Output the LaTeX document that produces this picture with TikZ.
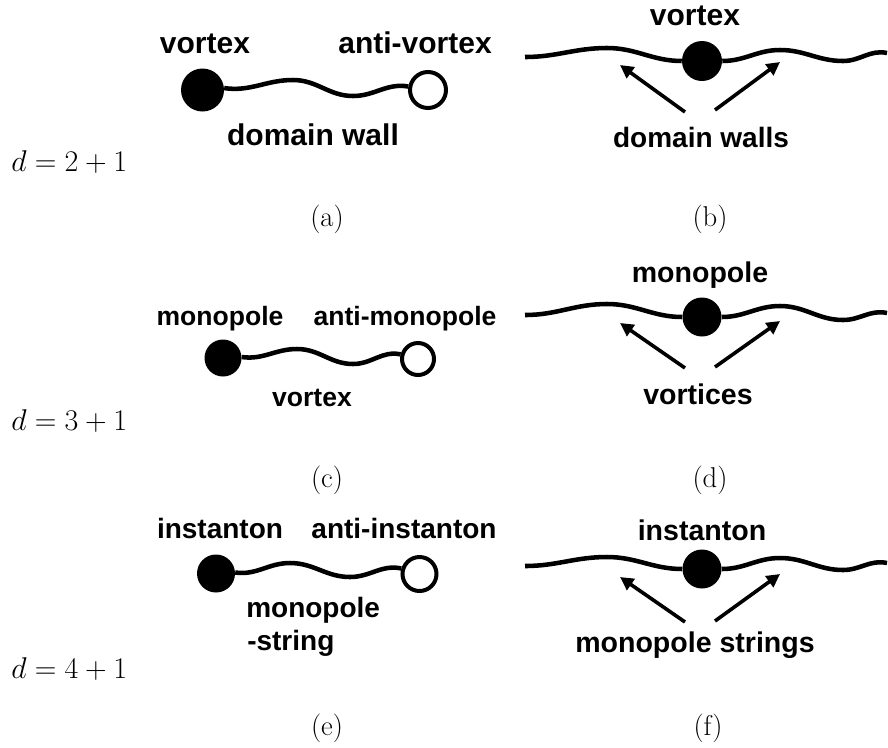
\RequirePackage{fix-cm}
\documentclass[tikz,border=0pt]{standalone}
\usepackage{fontspec}
\setsansfont{Liberation Sans}
\usetikzlibrary{arrows.meta}
\tikzset{
  lbl/.style={font=\sffamily\bfseries\fontsize{#1}{#1}\selectfont, inner sep=0pt, anchor=base},
  num/.style={font=\fontsize{21.5}{26}\selectfont, inner sep=0pt, anchor=base},
  dim/.style={font=\fontsize{22.5}{27}\selectfont, inner sep=0pt, anchor=base west},
  fdot/.style={circle, fill=black, inner sep=0pt, minimum size=#1},
  odot/.style={circle, draw=black, line width=3pt, fill=white, inner sep=0pt, minimum size=#1},
  wave/.style={line width=3.4pt},
  ptr/.style={line width=2.7pt, -{Triangle[length=10pt,width=10pt]}},
}
\begin{document}
\begin{tikzpicture}[x=0.75pt,y=-0.75pt]
\path[use as bounding box] (0,0) rectangle (888,747);

% ---------- (a) ----------
\node[fdot=32.25pt] (a1) at (202.5,90) {};
\node[odot=27pt] (a2) at (428,90) {};
\coordinate (ap) at (293,80);
\coordinate (at) at (353,96);
\draw[wave] (a1.5) to[out=-8,in=180] (ap) to[out=0,in=180] (at) to[out=0,in=170] (a2.170);
\node[lbl=22.5] (alv) at (205,53) {vortex};
\node[lbl=22.5] (ala) at (415,53) {anti-vortex};
\node[lbl=22.5] (alw) at (313,145) {domain wall};
\node[dim] (d2) at (11,171) {$d=2+1$};
\node[num] (capa) at (327,226) {(a)};

% ---------- (b) ----------
\node[fdot=30pt] (b1) at (702,61) {};
\coordinate (b0) at (525,57);
\coordinate (bp1) at (607,48);
\coordinate (bp2) at (780,50);
\coordinate (bt2) at (843,61);
\coordinate (be) at (887,53);
\draw[wave] (b0) to[out=0,in=180] (bp1) to[out=0,in=180] (b1.west);
\draw[wave] (b1.east) to[out=0,in=180] (bp2) to[out=0,in=180] (bt2) to[out=0,in=168] (be);
\coordinate (bs1) at (685,112);
\coordinate (bh1) at (620,65);
\coordinate (bs2) at (715,110);
\coordinate (bh2) at (780,62);
\draw[ptr] (bs1) -- (bh1);
\draw[ptr] (bs2) -- (bh2);
\node[lbl=22.5] (blv) at (695,25) {vortex};
\node[lbl=21] (blw) at (701,147) {domain walls};
\node[num] (capb) at (710,226) {(b)};

% ---------- (c) ----------
\node[fdot=27.75pt] (c1) at (223,358) {};
\node[odot=24pt] (c2) at (418,359) {};
\coordinate (cp) at (297,349);
\coordinate (ct) at (353,364);
\draw[wave] (c1.3) to[out=-8,in=180] (cp) to[out=0,in=180] (ct) to[out=0,in=168] (c2.165);
\node[lbl=19.9] (clm) at (220,325) {monopole};
\node[lbl=19.9] (cla) at (405,325) {anti-monopole};
\node[lbl=19.9] (clv) at (312,406) {vortex};
\node[dim] (d3) at (11,430) {$d=3+1$};
\node[num] (capc) at (327,487) {(c)};

% ---------- (d) ----------
\node[fdot=29.25pt] (d1) at (702,317) {};
\coordinate (d0) at (525,315);
\coordinate (dp1) at (607,304);
\coordinate (dp2) at (780,306);
\coordinate (dt2) at (843,320);
\coordinate (de) at (887,313);
\draw[wave] (d0) to[out=0,in=180] (dp1) to[out=0,in=180] (d1.west);
\draw[wave] (d1.east) to[out=0,in=180] (dp2) to[out=0,in=180] (dt2) to[out=0,in=168] (de);
\coordinate (ds1) at (685,368);
\coordinate (dh1) at (620,323);
\coordinate (ds2) at (715,367);
\coordinate (dh2) at (780,321);
\draw[ptr] (ds1) -- (dh1);
\draw[ptr] (ds2) -- (dh2);
\node[lbl=21.4] (dlm) at (700,282) {monopole};
\node[lbl=21.4] (dlv) at (698,404) {vortices};
\node[num] (capd) at (710,487) {(d)};

% ---------- (e) ----------
\node[fdot=28.5pt] (e1) at (216,573.5) {};
\node[odot=25.5pt] (e2) at (419.5,574) {};
\coordinate (ep) at (290,563);
\coordinate (et) at (350,577);
\draw[wave] (e1.3) to[out=-8,in=180] (ep) to[out=0,in=180] (et) to[out=0,in=168] (e2.163);
\node[lbl=21] (eli) at (220,538) {instanton};
\node[lbl=21] (ela) at (404,538) {anti-instanton};
\node[lbl=21, anchor=base west] (elm) at (246,617) {monopole};
\node[lbl=21, anchor=base west] (els) at (247,650) {-string};
\node[dim] (d4) at (11,678) {$d=4+1$};
\node[num] (cape) at (327,735) {(e)};

% ---------- (f) ----------
\node[fdot=29.25pt] (f1) at (702,569) {};
\coordinate (f0) at (525,566);
\coordinate (fp1) at (607,557);
\coordinate (fp2) at (780,558);
\coordinate (ft2) at (843,570);
\coordinate (fe) at (887,563);
\draw[wave] (f0) to[out=0,in=180] (fp1) to[out=0,in=180] (f1.west);
\draw[wave] (f1.east) to[out=0,in=180] (fp2) to[out=0,in=180] (ft2) to[out=0,in=168] (fe);
\coordinate (fs1) at (685,622);
\coordinate (fh1) at (620,577);
\coordinate (fs2) at (715,621);
\coordinate (fh2) at (780,574);
\draw[ptr] (fs1) -- (fh1);
\draw[ptr] (fs2) -- (fh2);
\node[lbl=21.4] (fli) at (702,540) {instanton};
\node[lbl=21.4] (flm) at (695,652) {monopole strings};
\node[num] (capf) at (708,735) {(f)};
\end{tikzpicture}
\end{document}
